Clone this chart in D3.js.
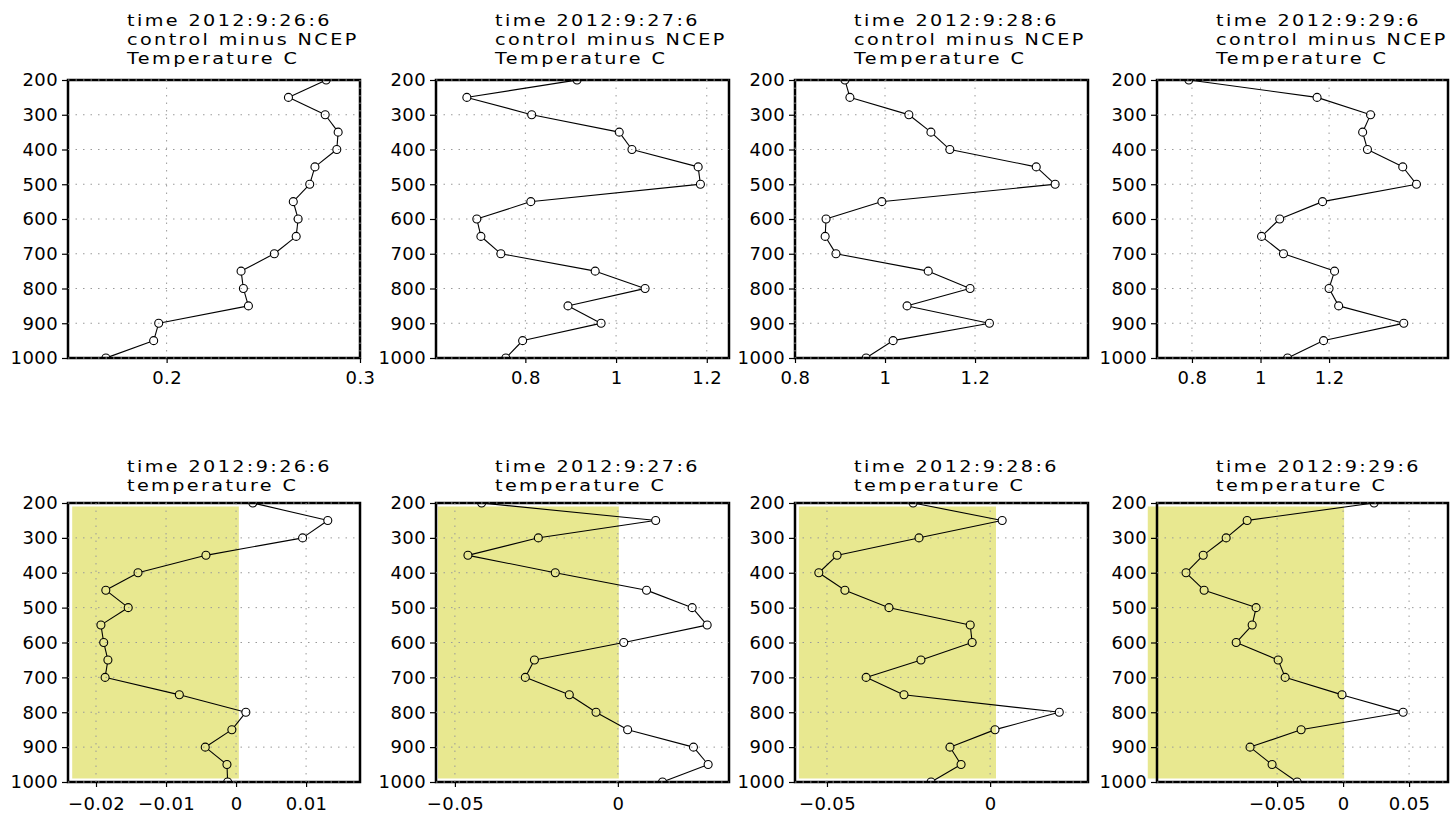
<!DOCTYPE html>
<html>
<head>
<meta charset="utf-8">
<script src="https://d3js.org/d3.v7.min.js"></script>
<style>
  body { margin: 0; background: #ffffff; }
  text { font-family: "DejaVu Sans", sans-serif; fill: #000; }
</style>
</head>
<body>
<div id="chart-area"></div>
<script>
/*
*    Vertical profiles, control minus NCEP and temperature, four days
*/

// ---- data ----
var levels = [200, 250, 300, 350, 400, 450, 500, 550, 600, 650, 700, 750, 800, 850, 900, 950, 1000];
var pressureTicks = [200, 300, 400, 500, 600, 700, 800, 900, 1000];
var times = ["2012:9:26:6", "2012:9:27:6", "2012:9:28:6", "2012:9:29:6"];

var diffDay26 = [0.2825, 0.263, 0.282, 0.2887, 0.288, 0.2767, 0.274, 0.2655, 0.268, 0.267, 0.2557, 0.2385, 0.2397, 0.2423, 0.1959, 0.1933, 0.1686];
var diffDay27 = [0.914, 0.671, 0.814, 1.007, 1.035, 1.181, 1.186, 0.812, 0.693, 0.702, 0.746, 0.954, 1.064, 0.894, 0.967, 0.794, 0.757];
var diffDay28 = [0.911, 0.922, 1.053, 1.102, 1.144, 1.336, 1.378, 0.993, 0.869, 0.867, 0.891, 1.096, 1.189, 1.049, 1.232, 1.018, 0.958];
var diffDay29 = [0.791, 1.165, 1.321, 1.298, 1.312, 1.415, 1.455, 1.181, 1.056, 1.003, 1.067, 1.216, 1.2, 1.228, 1.418, 1.184, 1.079];

var tempDay26 = [0.0024, 0.0131, 0.0095, -0.0043, -0.014, -0.0186, -0.0154, -0.0193, -0.0189, -0.0183, -0.0187, -0.0081, 0.0014, -0.0006, -0.0044, -0.0013, -0.0012];
var tempDay27 = [-0.0418, 0.0116, -0.0244, -0.046, -0.0192, 0.0088, 0.0228, 0.0274, 0.0018, -0.0256, -0.0284, -0.0149, -0.0067, 0.003, 0.0232, 0.0277, 0.0137];
var tempDay28 = [-0.0236, 0.0037, -0.0218, -0.0469, -0.0525, -0.0445, -0.031, -0.0061, -0.0055, -0.0212, -0.038, -0.0264, 0.0212, 0.0015, -0.0123, -0.0089, -0.0181];
var tempDay29 = [0.0235, -0.0727, -0.0886, -0.106, -0.119, -0.1053, -0.0659, -0.0689, -0.081, -0.0492, -0.0439, -0.0008, 0.0455, -0.0318, -0.0705, -0.0538, -0.0348];

var diffDomains = [[0.149, 0.3], [0.603, 1.249], [0.8, 1.451], [0.698, 1.547]];
var tempDomains = [[-0.024, 0.0177], [-0.0558, 0.0341], [-0.0598, 0.030], [-0.141, 0.0795]];
var diffTicks = [[0.2, 0.3], [0.8, 1, 1.2], [0.8, 1, 1.2], [0.8, 1, 1.2]];
var tempTicks = [[-0.02, -0.01, 0, 0.01], [-0.05, 0], [-0.05, 0], [-0.05, 0, 0.05]];
// shaded band (x range) behind the temperature profiles
var shadeRanges = [[-0.0234, 0.0004], [-0.0552, 0.0003], [-0.0586, 0.0018], [-0.148, 0.0008]];

var diffTitle = ["control minus NCEP", "Temperature C"];
var tempTitle = ["temperature C"];

// ---- layout ----
var svgWidth  = 1450;
var svgHeight = 815;
var colLeft  = [68, 436, 795, 1157];
var colRight = [360, 729, 1088, 1448];
var rows = [
    { top: 80,  bottom: 358, titleBase: 26,  titleStep: 19, labelOffset: 26 },
    { top: 503, bottom: 782, titleBase: 472, titleStep: 19, labelOffset: 28 }
];
var markR = 4;
var fmt = (d) => String(d).replace("-", "\u2212");

var svg = d3.select("#chart-area")
            .append("svg")
            .attr("width", svgWidth)
            .attr("height", svgHeight);

var clipCount = 0;

function profilePanel(col, row, values, domain, ticks, titleLines, shade)
{
    var left = colLeft[col], right = colRight[col];
    var top = row.top, bottom = row.bottom;

    var x = d3.scaleLinear().domain(domain).range([left, right]);
    var y = d3.scaleLinear().domain([200, 1000]).range([top, bottom]);

    var g = svg.append("g");

    // shaded band, a little inside the frame
    if (shade) {
        g.append("rect")
         .attr("x", x(shade[0]))
         .attr("width", x(shade[1]) - x(shade[0]))
         .attr("y", y(200) + 3.5)
         .attr("height", y(1000) - y(200) - 7)
         .attr("fill", "#e8e890");
    }

    // frame
    g.append("rect")
     .attr("x", left).attr("y", top)
     .attr("width", right - left).attr("height", bottom - top)
     .attr("fill", "none")
     .attr("stroke", "#000")
     .attr("stroke-width", 2.5);

    // dotted grid
    g.selectAll(".hgrid")
     .data(pressureTicks)
     .enter().append("line")
     .attr("x1", left).attr("x2", right)
     .attr("y1", (d) => y(d)).attr("y2", (d) => y(d))
     .attr("stroke", "#9a9a9a")
     .attr("stroke-width", 1)
     .attr("stroke-dasharray", "1.5,6");

    g.selectAll(".vgrid")
     .data(ticks)
     .enter().append("line")
     .attr("x1", (d) => x(d)).attr("x2", (d) => x(d))
     .attr("y1", top).attr("y2", bottom)
     .attr("stroke", "#9a9a9a")
     .attr("stroke-width", 1)
     .attr("stroke-dasharray", "1.5,6");

    // axes: outward ticks and labels
    var yAxisCall = d3.axisLeft(y)
                      .tickValues(pressureTicks)
                      .tickSize(6)
                      .tickPadding(4)
                      .tickFormat((d) => d);
    var yAxis = g.append("g")
                 .attr("transform", "translate(" + left + ",0)")
                 .call(yAxisCall);
    yAxis.select(".domain").remove();
    yAxis.selectAll("line").attr("stroke", "#000").attr("stroke-width", 1.2);
    yAxis.selectAll("text")
         .attr("font-size", "18px")
         .attr("font-family", "DejaVu Sans")
         .attr("letter-spacing", "0.4px")
         .attr("fill", "#000");

    var xAxisCall = d3.axisBottom(x)
                      .tickValues(ticks)
                      .tickSize(5)
                      .tickFormat(fmt);
    var xAxis = g.append("g")
                 .attr("transform", "translate(0," + bottom + ")")
                 .call(xAxisCall);
    xAxis.select(".domain").remove();
    xAxis.selectAll("line").attr("stroke", "#000").attr("stroke-width", 1.2);
    xAxis.selectAll("text")
         .attr("y", row.labelOffset)
         .attr("dy", null)
         .attr("font-size", "18px")
         .attr("font-family", "DejaVu Sans")
         .attr("letter-spacing", "0.4px")
         .attr("fill", "#000");

    // title block, stretched sideways like the plotting font
    g.selectAll(".title")
     .data(titleLines)
     .enter().append("text")
     .attr("transform", (d, i) => "translate(" + (left + 59) + "," + (row.titleBase + i * row.titleStep) + ") scale(1.2,1)")
     .attr("font-size", "16px")
     .attr("letter-spacing", "2px")
     .text((d) => d);

    // profile, clipped to the frame
    var clipId = "clip" + (clipCount++);
    g.append("clipPath").attr("id", clipId)
     .append("rect")
     .attr("x", left).attr("y", top)
     .attr("width", right - left).attr("height", bottom - top);

    var plot = g.append("g").attr("clip-path", "url(#" + clipId + ")");

    var pts = levels.map((p, i) => ({ px: x(values[i]), py: y(p) }));
    var segs = [];
    for (var i = 0; i < pts.length - 1; i++) {
        var a = pts[i], b = pts[i + 1];
        var dx = b.px - a.px, dy = b.py - a.py;
        var len = Math.sqrt(dx * dx + dy * dy);
        if (len <= 2 * markR) continue;
        var ux = dx / len, uy = dy / len;
        segs.push([a.px + ux * markR, a.py + uy * markR, b.px - ux * markR, b.py - uy * markR]);
    }

    plot.selectAll(".seg")
        .data(segs)
        .enter().append("line")
        .attr("x1", (d) => d[0]).attr("y1", (d) => d[1])
        .attr("x2", (d) => d[2]).attr("y2", (d) => d[3])
        .attr("stroke", "#000")
        .attr("stroke-width", 1.1);

    plot.selectAll(".mark")
        .data(levels)
        .enter().append("circle")
        .attr("cx", (d, i) => x(values[i]))
        .attr("cy", (d) => y(d))
        .attr("r", markR)
        .attr("fill", "none")
        .attr("stroke", "#000")
        .attr("stroke-width", 1.1);
}

var diffSeries = [diffDay26, diffDay27, diffDay28, diffDay29];
var tempSeries = [tempDay26, tempDay27, tempDay28, tempDay29];

for (var c = 0; c < 4; c++) {
    profilePanel(c, rows[0], diffSeries[c], diffDomains[c], diffTicks[c],
                 ["time " + times[c]].concat(diffTitle), null);
    profilePanel(c, rows[1], tempSeries[c], tempDomains[c], tempTicks[c],
                 ["time " + times[c]].concat(tempTitle), shadeRanges[c]);
}
</script>
</body>
</html>
